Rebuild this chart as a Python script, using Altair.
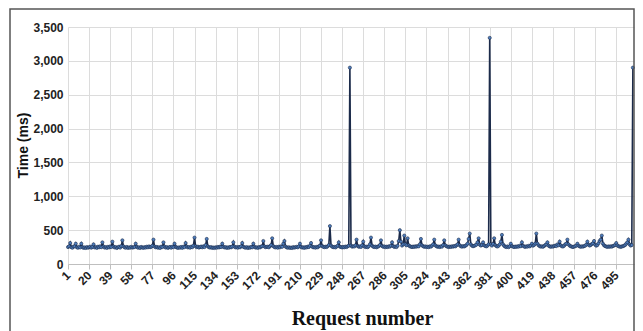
import altair as alt
import pandas as pd

# Response time (ms) per request (rows of 20)
times = [
    250, 262, 310, 248, 240, 258, 262, 300, 246, 240, 255, 244, 300, 250, 238, 246, 236, 250, 240, 248,
    256, 240, 252, 290, 244, 250, 238, 256, 246, 262, 248, 320, 258, 242, 250, 238, 254, 244, 260, 250,
    330, 258, 244, 250, 236, 248, 256, 242, 264, 350, 260, 246, 240, 252, 238, 246, 240, 254, 242, 248,
    250, 300, 254, 240, 248, 236, 252, 244, 238, 250, 242, 256, 246, 260, 248, 254, 270, 360, 258, 246,
    252, 240, 248, 236, 256, 250, 320, 256, 242, 250, 238, 246, 252, 240, 256, 248, 300, 254, 244, 238,
    246, 240, 252, 238, 256, 248, 310, 258, 244, 250, 240, 256, 248, 270, 390, 262, 248, 256, 242, 250,
    258, 246, 262, 250, 280, 370, 260, 248, 242, 250, 238, 244, 236, 248, 240, 252, 244, 256, 250, 300,
    254, 244, 250, 238, 246, 240, 252, 246, 258, 320, 256, 244, 250, 240, 252, 246, 262, 310, 254, 246,
    240, 250, 236, 246, 240, 252, 246, 300, 254, 242, 248, 238, 250, 244, 258, 262, 340, 260, 248, 252,
    256, 246, 262, 280, 380, 264, 250, 244, 252, 240, 256, 246, 262, 254, 300, 340, 258, 246, 240, 248,
    238, 244, 236, 250, 242, 248, 254, 246, 260, 300, 252, 242, 248, 238, 250, 244, 256, 250, 270, 310,
    256, 246, 250, 240, 252, 246, 262, 270, 350, 266, 254, 248, 256, 250, 262, 280, 560, 272, 256, 248,
    252, 244, 258, 270, 320, 256, 250, 244, 252, 246, 258, 250, 262, 270, 2900, 272, 256, 262, 258, 276,
    360, 266, 254, 260, 252, 276, 330, 262, 250, 256, 248, 262, 290, 390, 270, 256, 250, 258, 246, 256,
    262, 280, 350, 266, 254, 260, 248, 256, 250, 262, 256, 270, 320, 264, 252, 258, 250, 270, 340, 500,
    330, 272, 290, 420, 290, 276, 380, 276, 262, 256, 250, 258, 252, 262, 256, 266, 260, 290, 370, 276,
    262, 254, 260, 250, 256, 248, 262, 256, 270, 290, 360, 276, 262, 254, 258, 250, 262, 256, 280, 350,
    276, 262, 256, 250, 258, 252, 262, 256, 266, 260, 276, 290, 360, 276, 262, 256, 264, 258, 268, 280,
    300, 370, 450, 290, 270, 262, 268, 276, 286, 320, 380, 286, 272, 280, 320, 276, 266, 260, 272, 290,
    3340, 292, 272, 296, 380, 280, 264, 258, 270, 290, 330, 430, 290, 268, 256, 250, 260, 248, 262, 300,
    264, 256, 250, 258, 252, 262, 256, 270, 262, 320, 270, 258, 252, 262, 256, 268, 260, 274, 300, 270,
    282, 300, 450, 300, 276, 264, 256, 262, 254, 266, 280, 290, 320, 272, 260, 254, 262, 256, 266, 272,
    264, 290, 276, 330, 276, 262, 258, 270, 290, 300, 360, 290, 272, 262, 256, 250, 258, 262, 272, 300,
    270, 260, 254, 262, 256, 264, 270, 286, 330, 284, 272, 280, 296, 306, 340, 284, 270, 280, 306, 340,
    360, 420, 300, 276, 264, 258, 252, 260, 254, 262, 256, 266, 272, 280, 310, 276, 262, 258, 252, 260,
    262, 270, 280, 300, 320, 360, 290, 272, 280, 2900,
]
requests = list(range(1, len(times) + 1))
x_ticks = [1, 20, 39, 58, 77, 96, 115, 134, 153, 172, 191, 210, 229, 248, 267, 286,
           305, 324, 343, 362, 381, 400, 419, 438, 457, 476, 495]
y_ticks = [0, 500, 1000, 1500, 2000, 2500, 3000, 3500]

df = pd.DataFrame({"request": requests, "time": times})

x_enc = alt.X(
    "request:Q",
    scale=alt.Scale(domain=[1, 511], nice=False, zero=False),
    axis=alt.Axis(
        values=x_ticks, format="d", title="Request number", labelAngle=315,
        labelAlign="right", labelBaseline="middle", labelPadding=4,
        labelFont="Liberation Sans", labelFontWeight="bold", labelFontSize=12,
        labelColor="#222222", ticks=True, tickSize=5, tickColor="#bfbfbf",
        domainColor="#bfbfbf", grid=True, gridColor="#dcdcdc", labelOverlap=False,
        labelFlush=False, titleFont="Liberation Serif", titleFontWeight="bold",
        titleFontSize=20, titleColor="#111111", titleX=294, titleY=60,
        titleBaseline="alphabetic", titleAlign="center",
    ),
)
y_enc = alt.Y(
    "time:Q",
    scale=alt.Scale(domain=[0, 3500], nice=False),
    axis=alt.Axis(
        values=y_ticks, format=",.0f", title="Time (ms)", labelFont="Liberation Sans",
        labelFontWeight="bold", labelFontSize=12, labelColor="#222222", labelPadding=5,
        ticks=False, domain=False, grid=True, gridColor="#dcdcdc",
        titleFont="Liberation Sans", titleFontWeight="bold", titleFontSize=14,
        titleColor="#111111", titleX=-45, titleY=118, titleAngle=270,
        titleAlign="center", titleBaseline="middle",
    ),
)

base = alt.Chart(df).encode(x=x_enc, y=y_enc)
line = base.mark_line(color="#1c2b4a", strokeWidth=1.6)
points = base.mark_point(filled=True, size=10, color="#4f7fbf", stroke="#1c2b4a",
                         strokeWidth=0.6, opacity=1)

frame = alt.Chart(pd.DataFrame({"f": [0]})).mark_rect(
    fill="transparent", stroke="#555555", strokeWidth=1.5
).encode(x=alt.value(-58), x2=alt.value(566), y=alt.value(-18), y2=alt.value(330))

chart = alt.layer(line, points, frame).properties(
    width=566, height=237,
    padding={"left": 60, "top": 19, "right": 1, "bottom": 67},
    autosize=alt.AutoSizeParams(type="none"),
    background="white",
).configure_view(stroke=None)

chart.save("out.html", embed_options={"renderer": "svg", "actions": False})
